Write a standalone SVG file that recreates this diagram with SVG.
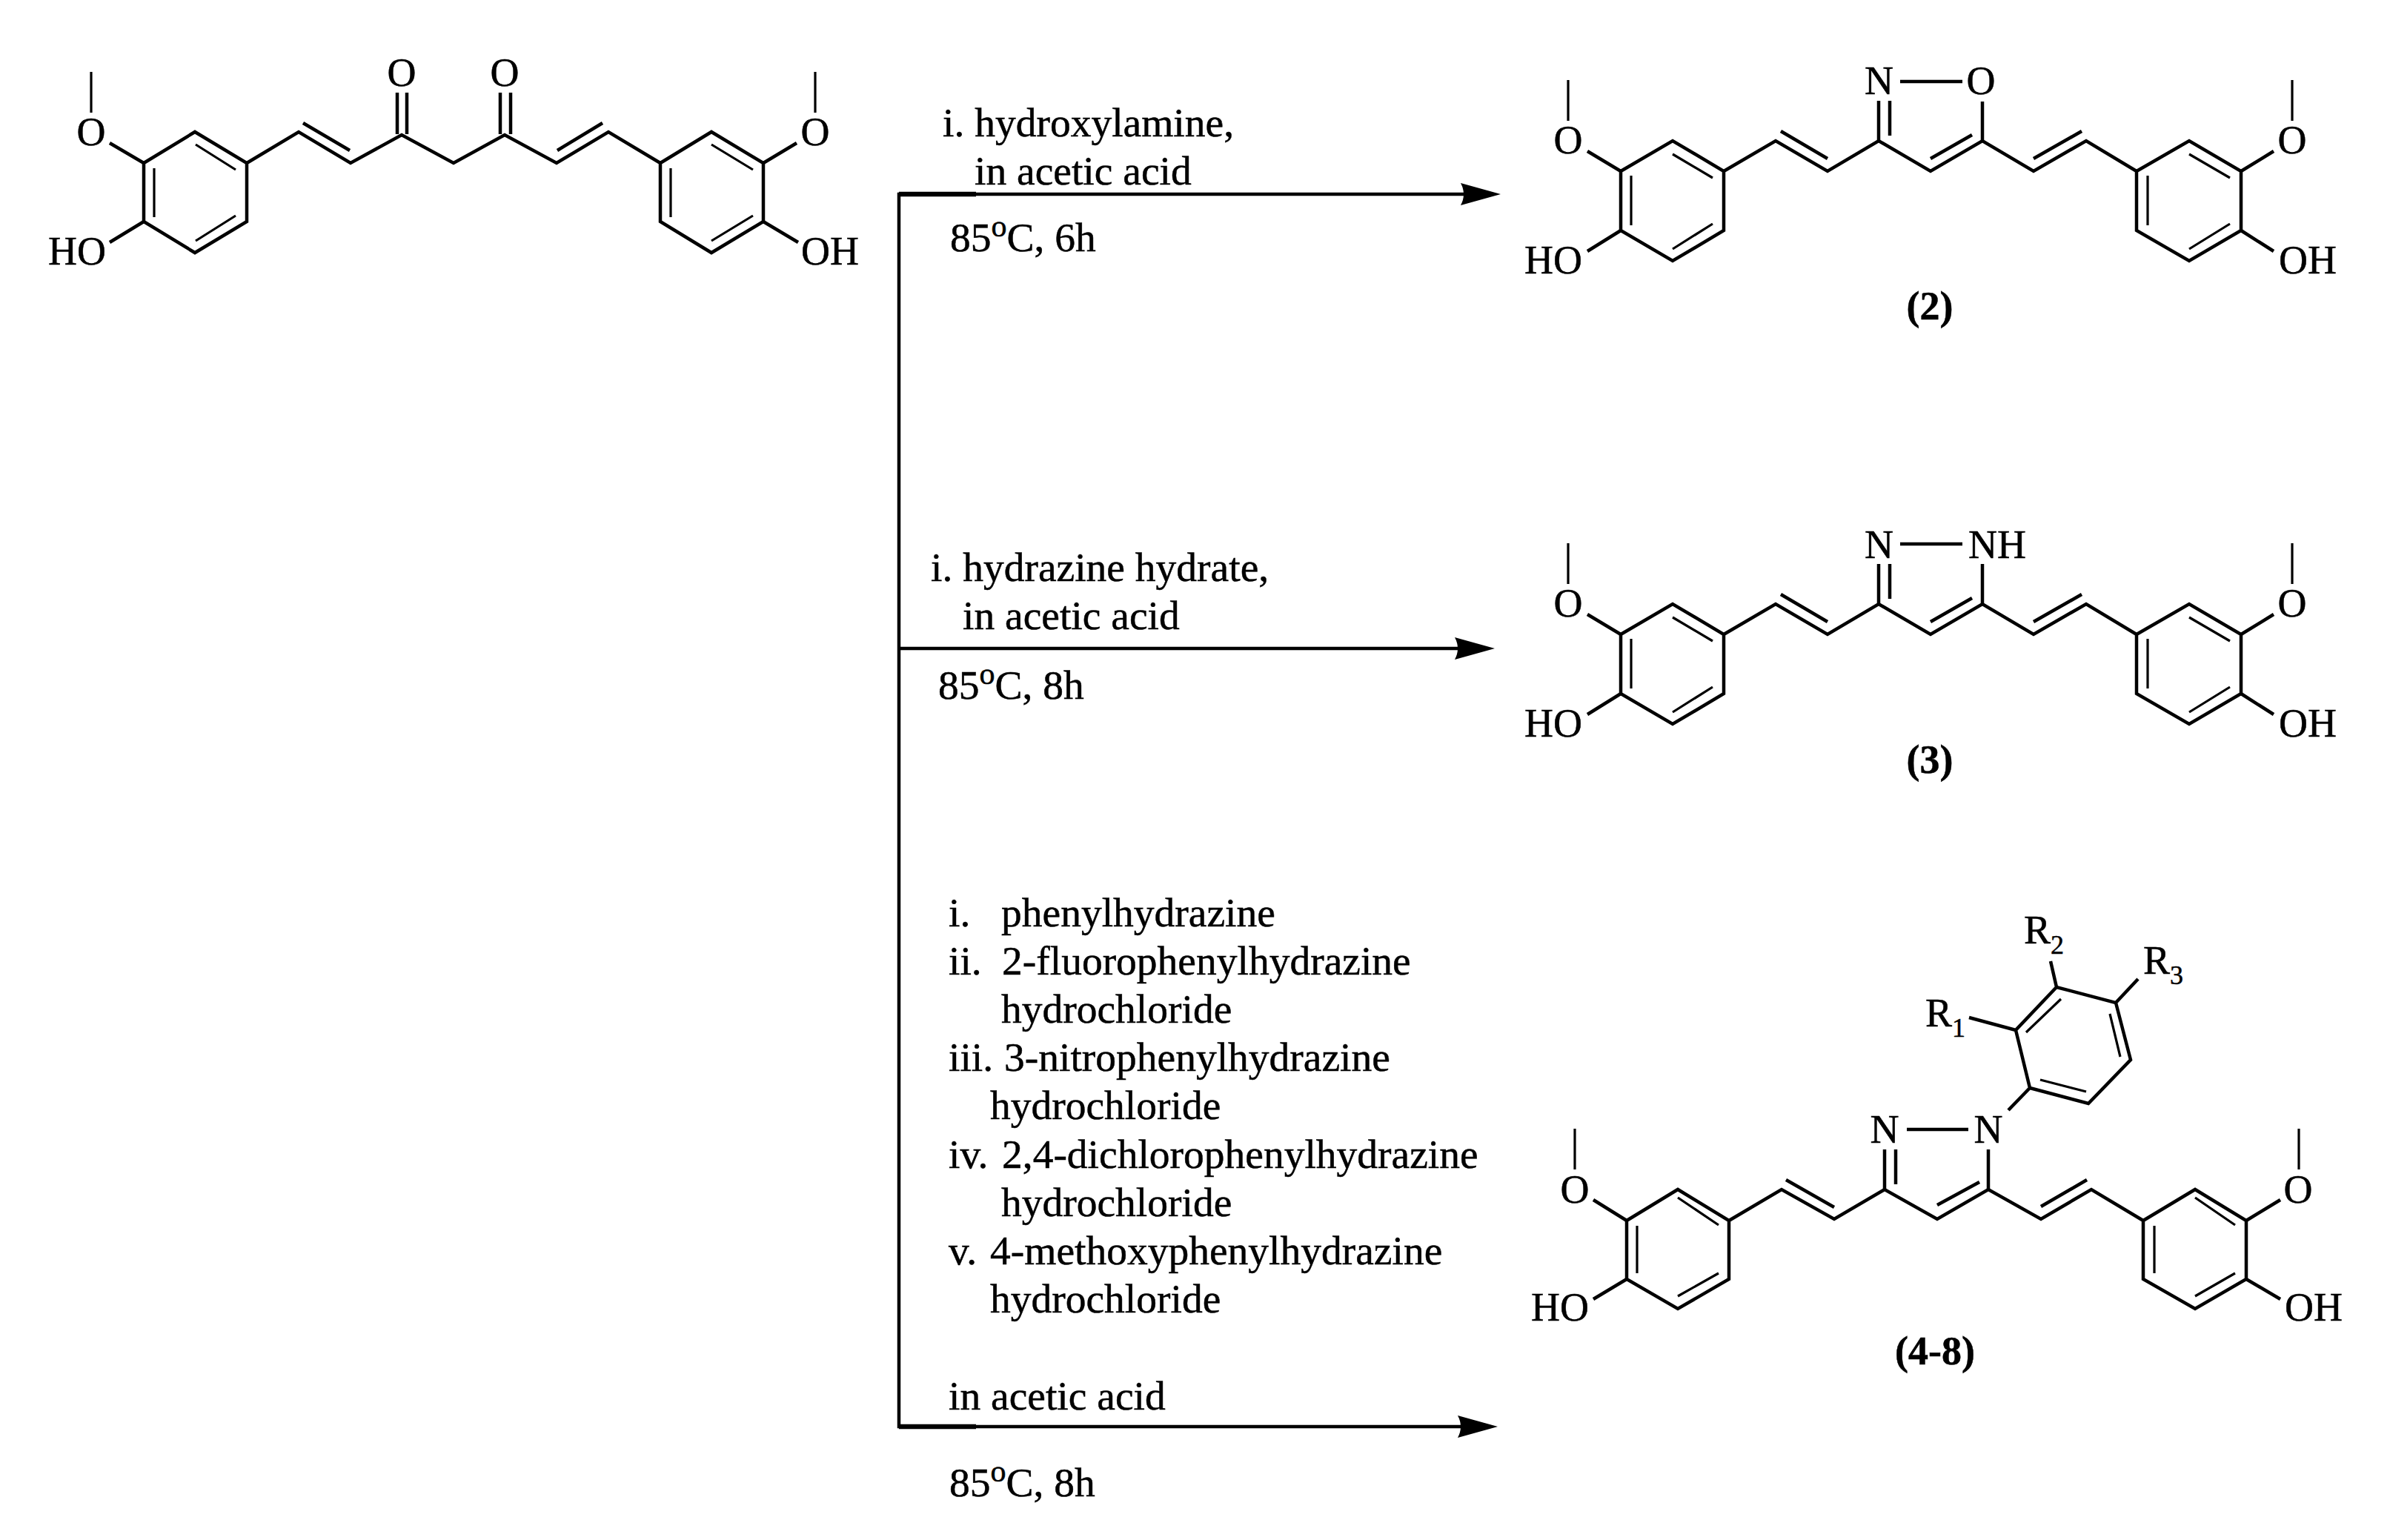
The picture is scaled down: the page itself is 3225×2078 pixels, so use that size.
<svg xmlns="http://www.w3.org/2000/svg" width="3225" height="2078" viewBox="0 0 3225 2078">
<style>
text{font-family:"Liberation Serif","Times New Roman",serif;fill:#000;stroke:#000;stroke-width:.5}
.t{font-size:55.5px}
.a{font-size:54px}
.m{text-anchor:middle}
.b{font-size:54px;font-weight:bold;text-anchor:middle}
.s{font-size:36px}
.u{font-size:42px}
.o{fill:none;stroke:#000;stroke-width:4.5;stroke-linejoin:miter;stroke-linecap:butt}
.i{fill:none;stroke:#000;stroke-width:3.2;stroke-linecap:butt}
.c{fill:none;stroke:#000;stroke-width:4.5}
.k{fill:none;stroke:#000;stroke-width:6.5}
</style>
<defs>
<marker id="head" markerUnits="userSpaceOnUse" markerWidth="56" markerHeight="32" refX="40" refY="16" viewBox="0 0 56 32" orient="auto">
<path d="M1,1 L55,16 L1,31 Q9,16 1,1 Z" fill="#000"/>
</marker>
</defs>
<rect width="3225" height="2078" fill="#fff"/>
<g id="connectors">
<path class="c" d="M1213,260 V1927"/>
<path class="c" d="M1211,262 H2010" marker-end="url(#head)"/>
<path class="c" d="M1213,875 H2002" marker-end="url(#head)"/>
<path class="c" d="M1211,1925 H2006" marker-end="url(#head)"/>
<path class="k" d="M1213,262 H1317 M1213,1925 H1317"/>
</g>
<g id="curcumin">
<path class="o" d="M194,220 L263,178 L333,220 L333,299 L263,341 L194,299 Z M333,220 L403,178 L473,220 L542,182 L612,220 L681,182 L751,220 L821,178 L891,220 M891,220 L960,178 L1030,220 L1030,299 L960,341 L891,299 Z"/>
<path class="o" d="M194,220 L148,193 M194,299 L148,327 M1030,220 L1075,193 M1030,299 L1077,327 M536,125 V181 M549,125 V181 M675,125 V181 M689,125 V181 M409,166 L472,203 M813,166 L752,203"/>
<path class="i" d="M123,97 V152 M1100,97 V152 M264,195 L318,229 M208,227 V293 M318,291 L264,325 M960,195 L1016,229 M905,227 V293 M1016,291 L960,325"/>
<text class="a m" x="542" y="116">O</text>
<text class="a m" x="681" y="116">O</text>
<text class="a m" x="123" y="196">O</text>
<text class="a m" x="1100" y="196">O</text>
<text class="a" x="65" y="357">HO</text>
<text class="a" x="1081" y="357">OH</text>
</g>
<g id="reagents-1">
<text class="t" x="1272" y="184">i. hydroxylamine,</text>
<text class="t" x="1315" y="249">in acetic acid</text>
<text class="t" x="1282" y="339">85<tspan class="u" dy="-20">o</tspan><tspan dy="20">C, 6h</tspan></text>
</g>
<g id="reagents-2">
<text class="t" x="1256" y="784">i. hydrazine hydrate,</text>
<text class="t" x="1299" y="849">in acetic acid</text>
<text class="t" x="1266" y="943">85<tspan class="u" dy="-20">o</tspan><tspan dy="20">C, 8h</tspan></text>
</g>
<g id="reagents-3">
<text class="t" x="1280" y="1250">i.</text><text class="t" x="1351" y="1250">phenylhydrazine</text>
<text class="t" x="1280" y="1315">ii.</text><text class="t" x="1352" y="1315">2-fluorophenylhydrazine</text>
<text class="t" x="1351" y="1380">hydrochloride</text>
<text class="t" x="1280" y="1445">iii.</text><text class="t" x="1355" y="1445">3-nitrophenylhydrazine</text>
<text class="t" x="1336" y="1510">hydrochloride</text>
<text class="t" x="1280" y="1576">iv.</text><text class="t" x="1352" y="1576">2,4-dichlorophenylhydrazine</text>
<text class="t" x="1351" y="1641">hydrochloride</text>
<text class="t" x="1280" y="1706">v.</text><text class="t" x="1336" y="1706">4-methoxyphenylhydrazine</text>
<text class="t" x="1336" y="1771">hydrochloride</text>
<text class="t" x="1280" y="1902">in acetic acid</text>
<text class="t" x="1281" y="2019">85<tspan class="u" dy="-20">o</tspan><tspan dy="20">C, 8h</tspan></text>
</g>
<g id="compound-2">
<path class="o" d="M2187,231 L2257,190 L2326,231 L2326,311 L2257,352 L2187,311 Z M2326,231 L2396,190 L2466,231 L2535,190 L2605,231 L2675,190 L2744,231 L2815,190 L2883,231 M2883,231 L2954,190 L3024,231 L3024,311 L2954,352 L2883,311 Z"/>
<path class="o" d="M2187,231 L2142,204 M2187,311 L2142,339 M3024,231 L3068,204 M3024,311 L3068,339 M2535,136 V190 M2550,136 V183 M2675,137 V190 M2564,110 H2648 M2403,177 L2466,214 M2809,177 L2744,214 M2661,182 L2605,214"/>
<path class="i" d="M2116,108 V163 M3093,108 V163 M2257,208 L2311,240 M2201,237 V304 M2311,302 L2257,336 M2954,208 L3009,240 M2898,237 V304 M3009,302 L2954,336"/>
<text class="a" x="2516" y="127">N</text>
<text class="a m" x="2673" y="127">O</text>
<text class="a m" x="2116" y="207">O</text>
<text class="a m" x="3093" y="207">O</text>
<text class="a" x="2057" y="369">HO</text>
<text class="a" x="3075" y="369">OH</text>
<text class="b" x="2604" y="431">(2)</text>
</g>
<g id="compound-3">
<path class="o" d="M2187,856 L2257,815 L2326,856 L2326,936 L2257,977 L2187,936 Z M2326,856 L2396,815 L2466,856 L2535,815 L2605,856 L2675,815 L2744,856 L2815,815 L2883,856 M2883,856 L2954,815 L3024,856 L3024,936 L2954,977 L2883,936 Z"/>
<path class="o" d="M2187,856 L2142,829 M2187,936 L2142,964 M3024,856 L3068,829 M3024,936 L3068,964 M2535,761 V815 M2550,761 V808 M2675,761 V815 M2564,734 H2648 M2403,802 L2466,839 M2809,802 L2744,839 M2661,807 L2605,839"/>
<path class="i" d="M2116,733 V788 M3093,733 V788 M2257,833 L2311,865 M2201,862 V929 M2311,927 L2257,961 M2954,833 L3009,865 M2898,862 V929 M3009,927 L2954,961"/>
<text class="a" x="2516" y="753">N</text>
<text class="a" x="2656" y="753">NH</text>
<text class="a m" x="2116" y="832">O</text>
<text class="a m" x="3093" y="832">O</text>
<text class="a" x="2057" y="994">HO</text>
<text class="a" x="3075" y="994">OH</text>
<text class="b" x="2604" y="1043">(3)</text>
</g>
<g id="compound-4-8">
<path class="o" d="M2195,1647 L2264,1605 L2333,1647 L2333,1726 L2264,1766 L2195,1726 Z M2333,1647 L2404,1605 L2475,1645 L2543,1605 L2614,1645 L2683,1605 L2754,1645 L2822,1605 L2892,1647 M2892,1647 L2962,1605 L3031,1647 L3031,1726 L2962,1766 L2892,1726 Z"/>
<path class="o" d="M2739,1468 L2818,1489 L2875,1430 L2855,1353 L2775,1332 L2720,1390 Z M2710,1498 L2739,1468 M2720,1390 L2657,1373 M2775,1332 L2767,1297 M2855,1353 L2885,1321"/>
<path class="o" d="M2195,1647 L2150,1619 M2195,1726 L2150,1753 M3031,1647 L3077,1619 M3031,1726 L3077,1753 M2543,1551 V1605 M2558,1551 V1598 M2683,1551 V1605 M2573,1524 H2656 M2410,1592 L2475,1629 M2816,1592 L2754,1628 M2671,1595 L2614,1626"/>
<path class="i" d="M2125,1523 V1578 M3102,1523 V1578 M2264,1616 L2319,1653 M2209,1654 V1718 M2319,1718 L2264,1749 M2962,1616 L3016,1653 M2907,1654 V1718 M3016,1718 L2962,1749 M2753,1457 L2815,1473 M2861,1426 L2847,1368 M2781,1348 L2734,1393"/>
<text class="a m" x="2543" y="1542">N</text>
<text class="a m" x="2683" y="1542">N</text>
<text class="a m" x="2125" y="1623">O</text>
<text class="a m" x="3101" y="1623">O</text>
<text class="a" x="2066" y="1782">HO</text>
<text class="a" x="3083" y="1782">OH</text>
<text class="a" x="2598" y="1385">R<tspan class="s" dy="14">1</tspan></text>
<text class="a" x="2731" y="1273">R<tspan class="s" dy="14">2</tspan></text>
<text class="a" x="2892" y="1314">R<tspan class="s" dy="14">3</tspan></text>
<text class="b" x="2611" y="1841">(4-8)</text>
</g>
</svg>
